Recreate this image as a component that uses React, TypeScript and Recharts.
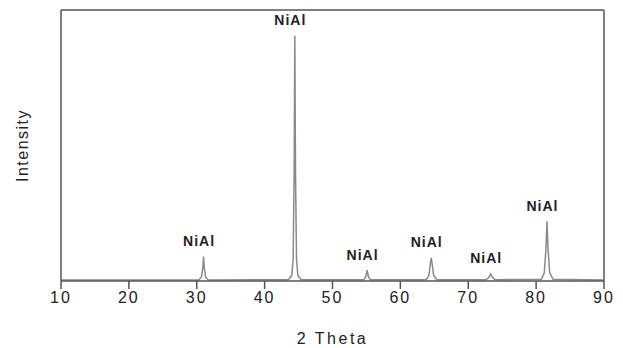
import { XAxis, YAxis, ReferenceLine, Scatter, LabelList, ComposedChart, Line } from 'recharts'

// diffraction pattern: [2 theta, intensity %]
const pattern: [number, number][] = [
  [10, 0.4], [20, 0.4], [30.3, 0.4],
  [30.7, 1.5], [30.9, 5], [31.0, 9], [31.1, 5], [31.3, 1.5], [31.7, 0.4],
  [43.5, 0.5], [44.0, 2], [44.2, 8], [44.35, 40], [44.45, 90.5], [44.55, 40], [44.7, 8], [44.9, 2], [45.4, 0.5],
  [54.6, 0.5], [54.9, 1.5], [55.1, 4], [55.3, 1.5], [55.6, 0.5],
  [63.8, 0.5], [64.2, 2], [64.4, 6], [64.55, 8.5], [64.7, 6], [64.9, 2], [65.4, 0.5],
  [72.6, 0.5], [73.0, 1.2], [73.3, 2.6], [73.6, 1.2], [74.0, 0.5],
  [80.8, 0.6], [81.2, 3], [81.45, 12], [81.6, 22], [81.75, 12], [82.0, 3], [82.5, 0.6],
  [90, 0.4],
]

const peakTheta = [31.0, 44.45, 55.1, 64.55, 73.3, 81.6]
const peakHeight = [9, 90.5, 4, 8.5, 2.6, 22]
const peakLabel = ['NiAl', 'NiAl', 'NiAl', 'NiAl', 'NiAl', 'NiAl']

const xTicks = [10, 20, 30, 40, 50, 60, 70, 80, 90]

const data = pattern.map(([t, i]) => ({ theta: t, intensity: i }))
const peaks = peakTheta.map((t, k) => ({ theta: t, top: peakHeight[k], name: peakLabel[k] }))

const font = 'Arial, "Liberation Sans", sans-serif'
const axisColor = '#555'

const YTitle = (props: any) => {
  const vb = props.viewBox
  const cy = vb.y + vb.height / 2
  return (
    <text x={22} y={cy} transform={`rotate(-90, 22, ${cy})`} textAnchor="middle" dominantBaseline="central"
      fontFamily={font} fontSize={16} letterSpacing={1.5} fill="#222">
      Intensity
    </text>
  )
}

const PeakLabel = (props: any) => {
  const { x, y, value } = props
  return (
    <text x={x} y={y - 6} textAnchor="middle" fontFamily={font} fontSize={14} fontWeight="bold"
      letterSpacing={1} fill="#222">
      {value}
    </text>
  )
}

export default function App() {
  return (
    <div style={{ position: 'absolute', left: 0, top: 0, background: '#fff' }}>
      <ComposedChart width={623} height={348} margin={{ top: 10, right: 19, left: 0, bottom: 0 }}>
        <XAxis
          type="number"
          dataKey="theta"
          domain={[10, 90]}
          ticks={xTicks}
          allowDataOverflow
          height={67}
          tickSize={8}
          tickMargin={3}
          stroke={axisColor}
          strokeWidth={1.5}
          tick={{ fontFamily: font, fontSize: 16, fill: '#222', letterSpacing: 2 }}
          label={{ value: '2 Theta', position: 'insideBottom', offset: 4, fontFamily: font, fontSize: 16, letterSpacing: 2.5, fill: '#222' }}
        />
        <YAxis
          type="number"
          domain={[0, 100]}
          width={61}
          tick={false}
          tickLine={false}
          stroke={axisColor}
          strokeWidth={1.5}
          label={<YTitle />}
        />
        <ReferenceLine y={100} stroke={axisColor} strokeWidth={1.5} />
        <ReferenceLine x={90} stroke={axisColor} strokeWidth={1.5} />
        <Line
          data={data}
          dataKey="intensity"
          type="linear"
          stroke="#8a8a8a"
          strokeWidth={1.5}
          dot={false}
          isAnimationActive={false}
        />
        <Scatter data={peaks} dataKey="top" shape={() => null} isAnimationActive={false}>
          <LabelList dataKey="name" content={<PeakLabel />} />
        </Scatter>
      </ComposedChart>
    </div>
  )
}
